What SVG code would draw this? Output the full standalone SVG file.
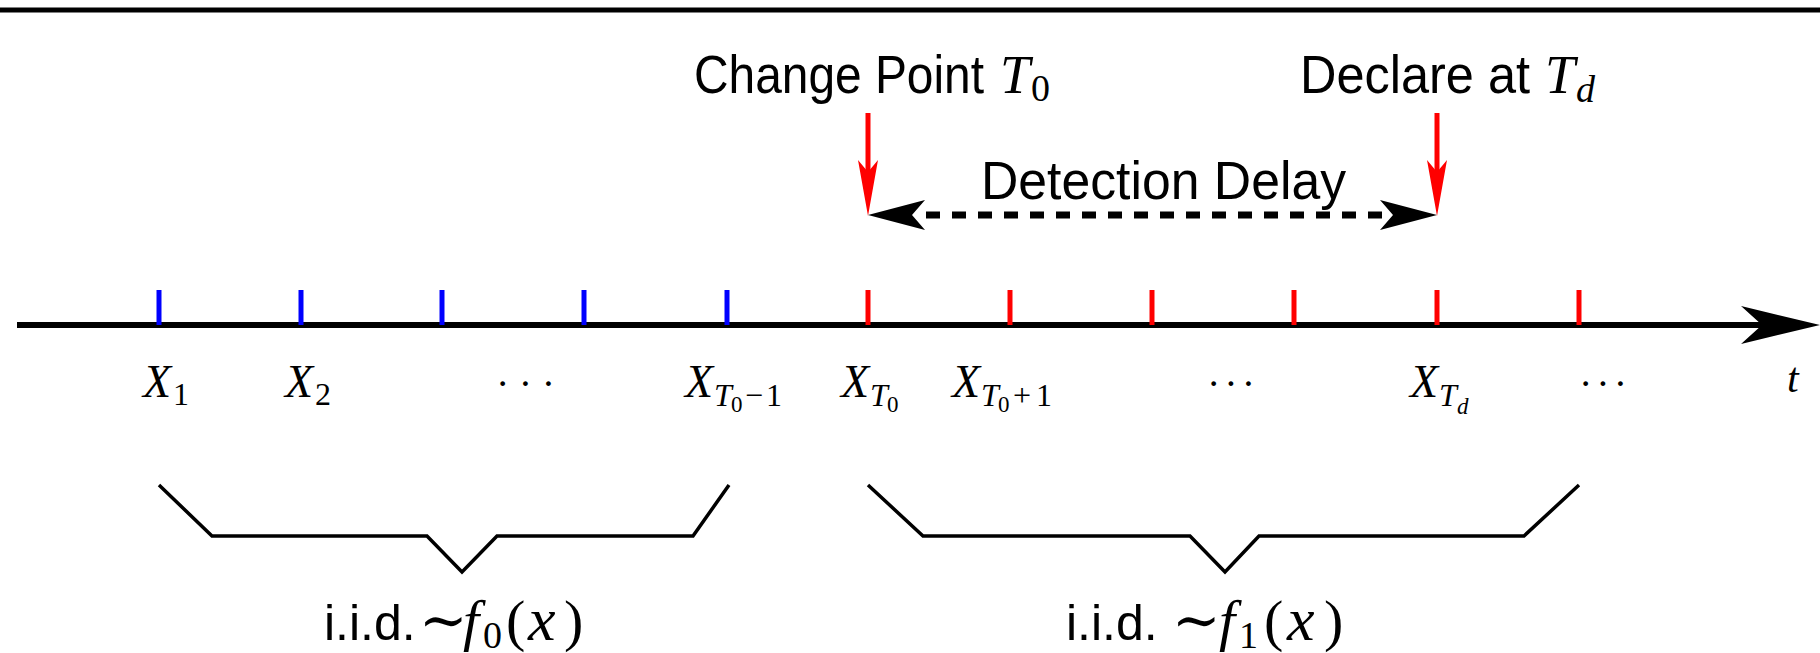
<svg xmlns="http://www.w3.org/2000/svg" width="1820" height="653" viewBox="0 0 1820 653">
<style>
.sans{font-family:"Liberation Sans","DejaVu Sans",sans-serif;fill:#000}
.m{font-family:"Liberation Serif","DejaVu Serif",serif;fill:#000}
.it{font-style:italic}
.tickb{stroke:#0000ff;stroke-width:5}
.tickr{stroke:#ff0000;stroke-width:5}
.br{fill:none;stroke:#000;stroke-width:3.5;stroke-linejoin:miter}
</style>
<rect x="0" y="0" width="1820" height="653" fill="#fff"/>
<line x1="0" y1="10" x2="1820" y2="10" stroke="#000" stroke-width="5"/>

<g id="axis">
<line x1="17" y1="325" x2="1765" y2="325" stroke="#000" stroke-width="6"/>
<path d="M1820,325 L1741,306 L1762,325 L1741,344 Z" fill="#000"/>
<text class="m it" x="1787" y="392" font-size="42">t</text>
</g>

<g id="ticks">
<line class="tickb" x1="159" y1="290" x2="159" y2="325"/>
<line class="tickb" x1="301" y1="290" x2="301" y2="325"/>
<line class="tickb" x1="442" y1="290" x2="442" y2="325"/>
<line class="tickb" x1="584" y1="290" x2="584" y2="325"/>
<line class="tickb" x1="727" y1="290" x2="727" y2="325"/>
<line class="tickr" x1="868" y1="290" x2="868" y2="325"/>
<line class="tickr" x1="1010" y1="290" x2="1010" y2="325"/>
<line class="tickr" x1="1152" y1="290" x2="1152" y2="325"/>
<line class="tickr" x1="1294" y1="290" x2="1294" y2="325"/>
<line class="tickr" x1="1437" y1="290" x2="1437" y2="325"/>
<line class="tickr" x1="1579" y1="290" x2="1579" y2="325"/>
</g>

<g id="labels">
<text class="m" font-size="46" y="397"><tspan class="it" x="143">X</tspan><tspan x="173" y="405" font-size="32">1</tspan></text>
<text class="m" font-size="46" y="397"><tspan class="it" x="285">X</tspan><tspan x="315" y="405" font-size="32">2</tspan></text>
<text class="m" font-size="40" x="496" y="397" textLength="59" lengthAdjust="spacing">···</text>
<text class="m" font-size="46" y="397"><tspan class="it" x="685">X</tspan><tspan class="it" x="714" y="406" font-size="32">T</tspan><tspan x="731" y="412" font-size="23">0</tspan><tspan x="745" y="406" font-size="32">−</tspan><tspan x="766" font-size="32">1</tspan></text>
<text class="m" font-size="46" y="397"><tspan class="it" x="841">X</tspan><tspan class="it" x="870" y="406" font-size="32">T</tspan><tspan x="887" y="412" font-size="23">0</tspan></text>
<text class="m" font-size="46" y="397"><tspan class="it" x="952">X</tspan><tspan class="it" x="981" y="406" font-size="32">T</tspan><tspan x="998" y="412" font-size="23">0</tspan><tspan x="1013" y="406" font-size="32">+</tspan><tspan x="1036" font-size="32">1</tspan></text>
<text class="m" font-size="40" x="1207" y="397" textLength="48" lengthAdjust="spacing">···</text>
<text class="m" font-size="46" y="397"><tspan class="it" x="1410">X</tspan><tspan class="it" x="1439" y="406" font-size="32">T</tspan><tspan class="it" x="1457" y="414" font-size="23">d</tspan></text>
<text class="m" font-size="40" x="1579" y="397" textLength="48" lengthAdjust="spacing">···</text>
</g>

<g id="change-point">
<text class="sans" font-size="53" x="694" y="93" textLength="290" lengthAdjust="spacingAndGlyphs">Change Point</text>
<text class="m" font-size="54" y="93"><tspan class="it" x="1000">T</tspan><tspan x="1031" y="101" font-size="38">0</tspan></text>
</g>

<g id="declare">
<text class="sans" font-size="53" x="1300" y="93" textLength="230" lengthAdjust="spacingAndGlyphs">Declare at</text>
<text class="m" font-size="54" y="93"><tspan class="it" x="1545">T</tspan><tspan class="it" x="1576" y="102" font-size="38">d</tspan></text>
</g>

<g id="detection-delay">
<text class="sans" font-size="53" x="981" y="199" textLength="365" lengthAdjust="spacingAndGlyphs">Detection Delay</text>
</g>

<g id="connectors">
<line x1="868" y1="113" x2="868" y2="172" stroke="#ff0000" stroke-width="5"/>
<path d="M868,216 L858,160 L868,172 L878,160 Z" fill="#ff0000"/>
<line x1="1437" y1="113" x2="1437" y2="172" stroke="#ff0000" stroke-width="5"/>
<path d="M1437,216 L1427,160 L1437,172 L1447,160 Z" fill="#ff0000"/>
<line x1="926" y1="215" x2="1384" y2="215" stroke="#000" stroke-width="7" stroke-dasharray="14 12"/>
<path d="M868,215 L925,200 L912,215 L925,230 Z" fill="#000"/>
<path d="M1437,215 L1380,200 L1393,215 L1380,230 Z" fill="#000"/>
</g>

<g id="brace-f0">
<polyline class="br" points="159,485 212,536 427,536 462,572 497,536 693,536 729,485"/>
<text class="sans" font-size="50" x="324" y="640">i.i.d.</text>
<text class="m" font-size="58" y="640"><tspan x="419">∼</tspan><tspan class="it" x="463">f</tspan><tspan x="483" y="648" font-size="38">0</tspan><tspan x="506" y="640">(</tspan><tspan class="it" x="528" font-size="62">x</tspan><tspan x="564">)</tspan></text>
</g>

<g id="brace-f1">
<polyline class="br" points="868,485 923,536 1190,536 1225,572 1259,536 1524,536 1579,485"/>
<text class="sans" font-size="50" x="1066" y="640">i.i.d.</text>
<text class="m" font-size="58" y="640"><tspan x="1172">∼</tspan><tspan class="it" x="1219">f</tspan><tspan x="1239" y="648" font-size="38">1</tspan><tspan x="1264" y="640">(</tspan><tspan class="it" x="1287" font-size="62">x</tspan><tspan x="1324">)</tspan></text>
</g>
</svg>
